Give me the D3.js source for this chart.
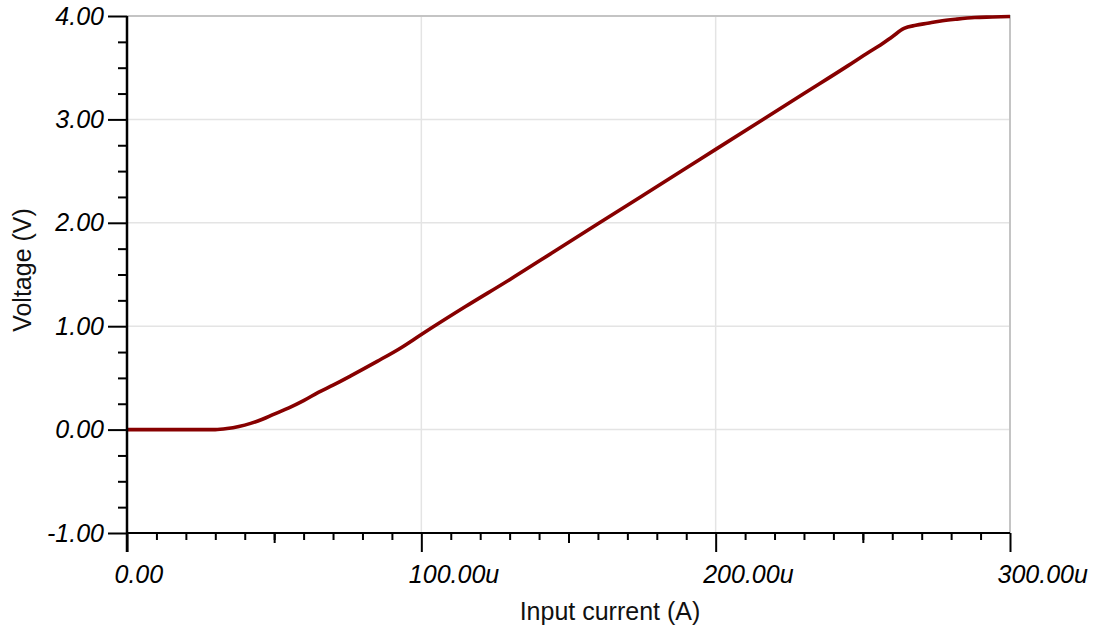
<!DOCTYPE html>
<html>
<head>
<meta charset="utf-8">
<script src="https://cdn.jsdelivr.net/npm/d3@7"></script>
<style>
  body { margin: 0; background: #fff; }
  svg { display: block; font-family: "Liberation Sans", Arial, sans-serif; }
</style>
</head>
<body>
<div id="chart"></div>
<script>
// Voltage vs input current
const current = [0, 10, 20, 30, 34, 38, 42, 46, 50, 55, 60, 65, 70, 76, 85, 93, 100,
                 115, 130, 145, 160, 175, 190, 200, 215, 230, 245, 252, 256, 260, 264,
                 268, 272, 276, 282, 288, 294, 300];  // uA
const voltage = [0, 0, 0, 0, 0.01, 0.03, 0.06, 0.10, 0.15, 0.21, 0.28, 0.36, 0.43, 0.52, 0.66, 0.79, 0.92,
                 1.19, 1.45, 1.72, 1.99, 2.26, 2.53, 2.71, 2.98, 3.25, 3.52, 3.65, 3.72, 3.80, 3.88,
                 3.91, 3.93, 3.95, 3.97, 3.985, 3.99, 3.995];  // V

const xMajor = [0, 100e-6, 200e-6, 300e-6];
const yMajor = [-1, 0, 1, 2, 3, 4];

const width = 1097;
const height = 630;
const margin = {left: 127, right: 87, top: 16, bottom: 97};

const svg = d3.select("#chart")
  .append("svg")
  .attr("width", width)
  .attr("height", height);

const x = d3.scaleLinear()
  .domain([0, 300e-6])
  .range([margin.left, width - margin.right]);

const y = d3.scaleLinear()
  .domain([-1, 4])
  .range([height - margin.bottom, margin.top]);

const data = current.map((c, i) => ({i: c * 1e-6, v: voltage[i]}));

// grid lines
svg.append("g")
  .selectAll("line")
  .data(yMajor.filter(d => d > -1 && d < 4))
  .join("line")
    .attr("x1", x(0)).attr("x2", x(300e-6))
    .attr("y1", d => y(d)).attr("y2", d => y(d))
    .attr("stroke", "#e4e4e4").attr("stroke-width", 1.5);

svg.append("g")
  .selectAll("line")
  .data(xMajor.filter(d => d > 0 && d < 300e-6))
  .join("line")
    .attr("x1", d => x(d)).attr("x2", d => x(d))
    .attr("y1", y(4)).attr("y2", y(-1))
    .attr("stroke", "#e4e4e4").attr("stroke-width", 1.5);

// top and right border
svg.append("path")
  .attr("d", `M${x(0)},${y(4)}H${x(300e-6)}V${y(-1)}`)
  .attr("fill", "none")
  .attr("stroke", "#c4c4c4")
  .attr("stroke-width", 2);

// the curve
svg.append("path")
  .datum(data)
  .attr("fill", "none")
  .attr("stroke", "#870000")
  .attr("stroke-width", 3.6)
  .attr("d", d3.line().x(d => x(d.i)).y(d => y(d.v)).curve(d3.curveMonotoneX));

// y axis
const yAxis = svg.append("g")
  .attr("transform", `translate(${x(0)},0)`)
  .call(d3.axisLeft(y).tickValues(yMajor).tickSize(19).tickPadding(4)
        .tickFormat(d => d.toFixed(2)));

yAxis.append("g")
  .call(d3.axisLeft(y).tickValues(d3.range(-1, 4, 0.25).filter(d => d % 1 !== 0))
        .tickSize(9).tickFormat(""));

// x axis
const xAxis = svg.append("g")
  .attr("transform", `translate(0,${y(-1)})`)
  .call(d3.axisBottom(x).tickValues(xMajor).tickSize(19).tickPadding(13)
        .tickFormat(d => d === 0 ? "0.00" : (d * 1e6).toFixed(2) + "u"));

xAxis.append("g")
  .call(d3.axisBottom(x).tickValues(d3.range(1, 30).filter(k => k % 10 !== 0).map(k => k * 10e-6))
        .tickSize(7).tickFormat(""));

xAxis.append("g")
  .call(d3.axisBottom(x).tickValues([50e-6, 150e-6, 250e-6]).tickSize(10).tickFormat(""));

svg.selectAll(".domain").remove();
svg.selectAll(".tick line").attr("stroke", "#000").attr("stroke-width", 2);

// axis lines
svg.append("line")
  .attr("x1", x(0)).attr("x2", x(0))
  .attr("y1", y(4)).attr("y2", y(-1) + 19)
  .attr("stroke", "#000").attr("stroke-width", 2.5);
svg.append("line")
  .attr("x1", x(0)).attr("x2", x(300e-6))
  .attr("y1", y(-1)).attr("y2", y(-1))
  .attr("stroke", "#000").attr("stroke-width", 2);

yAxis.selectAll("text")
  .attr("font-size", "25px")
  .attr("font-style", "italic")
  .attr("fill", "#000");

xAxis.selectAll("text")
  .attr("font-size", "25px")
  .attr("font-style", "italic")
  .attr("fill", "#000")
  .attr("text-anchor", "start")
  .attr("dx", -13);

// axis titles
svg.append("text")
  .attr("x", 610)
  .attr("y", 620)
  .attr("text-anchor", "middle")
  .attr("font-size", "25px")
  .attr("fill", "#111")
  .text("Input current (A)");

svg.append("text")
  .attr("transform", `translate(31,270) rotate(-90)`)
  .attr("text-anchor", "middle")
  .attr("font-size", "25px")
  .attr("fill", "#111")
  .text("Voltage (V)");
</script>
</body>
</html>
